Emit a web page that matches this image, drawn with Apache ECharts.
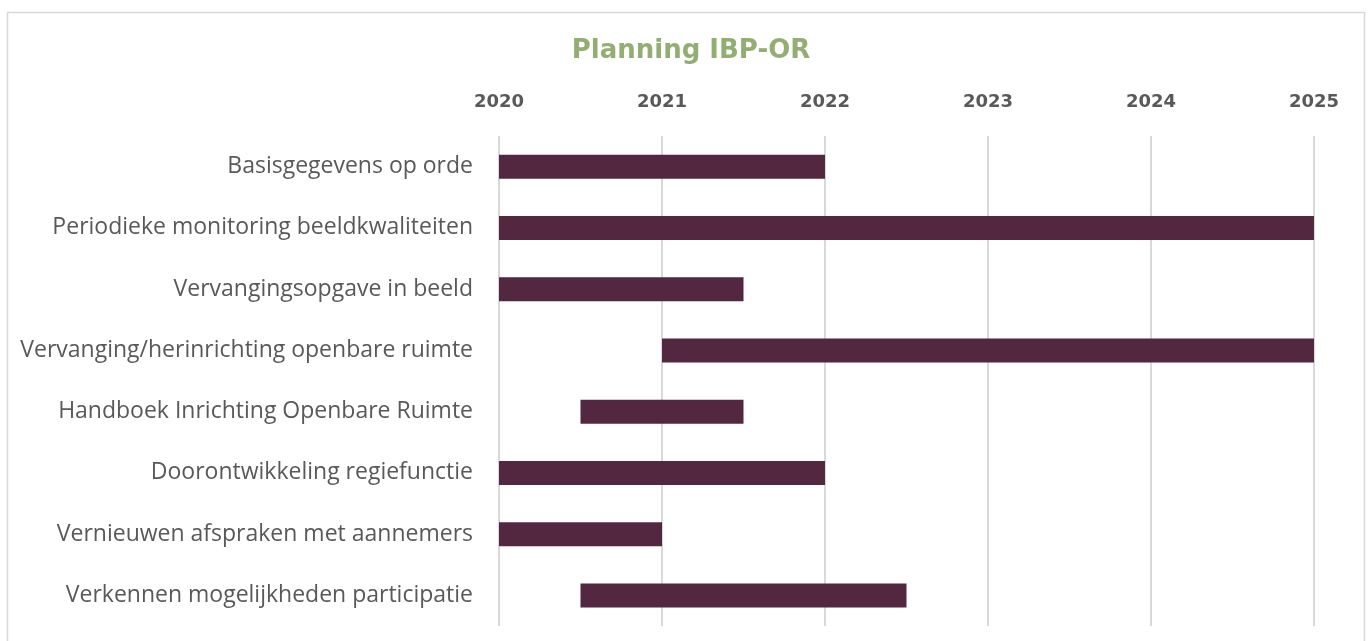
<!DOCTYPE html>
<html>
<head>
<meta charset="utf-8">
<script src="https://cdn.jsdelivr.net/npm/echarts@6/dist/echarts.min.js"></script>
<style>
  html, body { margin: 0; padding: 0; background: #fff; }
  #chart { width: 1370px; height: 641px; }
</style>
</head>
<body>
<div id="chart"></div>
<script>
// top row first
var taken = [
    'Basisgegevens op orde',
    'Periodieke monitoring beeldkwaliteiten',
    'Vervangingsopgave in beeld',
    'Vervanging/herinrichting openbare ruimte',
    'Handboek Inrichting Openbare Ruimte',
    'Doorontwikkeling regiefunctie',
    'Vernieuwen afspraken met aannemers',
    'Verkennen mogelijkheden participatie'
];
var startJaar = [2020, 2020, 2020, 2021, 2020.5, 2020, 2020, 2020.5];
var eindJaar = [2022, 2025, 2021.5, 2025, 2021.5, 2022, 2021, 2022.5];
var jaren = [2020, 2021, 2022, 2023, 2024, 2025];

var duur = eindJaar.map(function (e, i) { return +(e - startJaar[i]).toFixed(2); });

var myChart = echarts.init(document.getElementById('chart'));
var option = {
    animation: false,
    textStyle: { fontFamily: '"Open Sans", sans-serif' },
    title: {
        text: 'Planning IBP-OR',
        left: 686,
        top: 33,
        textAlign: 'center',
        textStyle: { color: '#93AE72', fontSize: 26, fontWeight: 'bold', fontFamily: '"DejaVu Sans", sans-serif' }
    },
    graphic: [{
        type: 'rect',
        shape: { x: 7.5, y: 12.5, width: 1357, height: 640 },
        style: { fill: null, stroke: '#d9d9d9', lineWidth: 1.5 },
        silent: true
    }],
    grid: { left: 499, right: 56, top: 136, bottom: 15 },
    xAxis: {
        type: 'value',
        position: 'top',
        min: jaren[0],
        max: jaren[jaren.length - 1],
        interval: 1,
        axisLine: { show: false },
        axisTick: { show: false },
        axisLabel: {
            color: '#595959', fontSize: 18, fontWeight: 'bold', margin: 25,
            fontFamily: '"DejaVu Sans", sans-serif',
            formatter: function (v) { return String(v); }
        },
        splitLine: { lineStyle: { color: '#d9d9d9', width: 2 } }
    },
    yAxis: {
        type: 'category',
        inverse: true,
        data: taken,
        axisLine: { show: false },
        axisTick: { show: false },
        axisLabel: { color: '#595959', fontSize: 23, margin: 26 }
    },
    series: [{
        type: 'bar',
        stack: 'gantt',
        data: startJaar,
        itemStyle: { color: 'transparent' },
        barWidth: 24,
        silent: true
    }, {
        type: 'bar',
        stack: 'gantt',
        data: duur,
        barWidth: 24,
        itemStyle: { color: '#52273F' }
    }]
};
myChart.setOption(option);
</script>
</body>
</html>
